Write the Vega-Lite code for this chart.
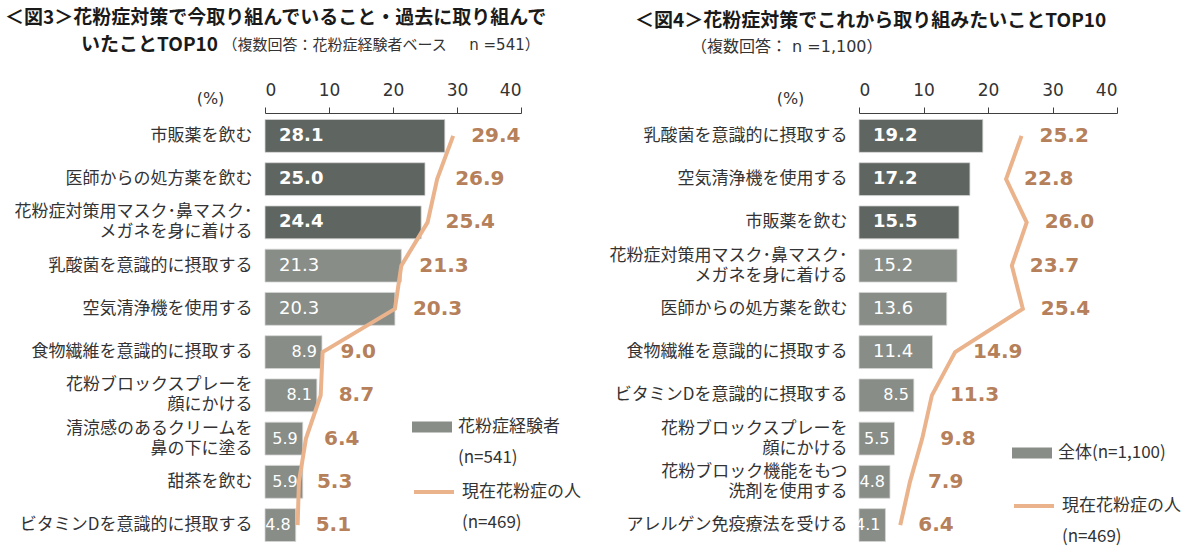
{
  "$schema": "https://vega.github.io/schema/vega-lite/v6.json",
  "background": "white",
  "padding": {"left": 5, "top": 9, "right": 5, "bottom": 5},
  "spacing": 28,
  "resolve": {"scale": {"fill": "independent", "stroke": "independent"}, "legend": {"fill": "independent", "stroke": "independent"}},
  "config": {
    "font": "Noto Sans CJK JP",
    "view": {"stroke": null},
    "style": {"guide-label": {"lineHeight": 31}},
    "title": {"anchor": "start", "frame": "group", "fontSize": 19, "fontWeight": "bold", "color": "#1a1a1a", "lineHeight": 27, "subtitleFontSize": 15, "subtitleColor": "#333333", "subtitleFont": "DejaVu Sans, Noto Sans CJK JP", "offset": 26},
    "legend": {"orient": "none", "title": null, "labelFont": "Noto Sans CJK JP", "labelFontSize": 17, "labelColor": "#333333", "labelOffset": 6, "labelLimit": 300, "symbolSize": 1600, "padding": 0}
  },
  "hconcat": [
    {
      "width": 256,
      "height": 435,
      "title": {
        "text": ["＜図3＞花粉症対策で今取り組んでいること・過去に取り組んで", "\u200b　　　　いたことTOP10"],
        "subtitle": "\u200b　　　　　　　　　　　　　　\u2002（複数回答：花粉症経験者ベース　\u2002n =541）",
        "dx": -260,
        "subtitlePadding": -17
      },
      "data": {"values": [
        {"item": "市販薬を飲む", "a": 28.1, "b": 29.4},
        {"item": "医師からの処方薬を飲む", "a": 25.0, "b": 26.9},
        {"item": "花粉症対策用マスク･鼻マスク･\nメガネを身に着ける", "a": 24.4, "b": 25.4},
        {"item": "乳酸菌を意識的に摂取する", "a": 21.3, "b": 21.3},
        {"item": "空気清浄機を使用する", "a": 20.3, "b": 20.3},
        {"item": "食物繊維を意識的に摂取する", "a": 8.9, "b": 9.0},
        {"item": "花粉ブロックスプレーを\n顔にかける", "a": 8.1, "b": 8.7},
        {"item": "清涼感のあるクリームを\n鼻の下に塗る", "a": 5.9, "b": 6.4},
        {"item": "甜茶を飲む", "a": 5.9, "b": 5.3},
        {"item": "ビタミンDを意識的に摂取する", "a": 4.8, "b": 5.1}
      ]},
      "transform": [{"window": [{"op": "row_number", "as": "rn"}]}],
      "encoding": {
        "y": {"field": "item", "type": "nominal", "sort": null,
          "scale": {"paddingInner": 0.24, "paddingOuter": 0.15},
          "axis": {"title": null, "domain": false, "ticks": false, "labelFont": "Noto Sans CJK JP", "labelFontSize": 17, "labelColor": "#333333", "labelPadding": 13, "labelLimit": 400, "labelLineHeight": 20, "labelExpr": "split(datum.label, '\\n')",
            "labelOffset": {"condition": {"test": "indexof(datum.label, '\\n') >= 0", "value": -10}, "value": 0},
            "minExtent": 243, "maxExtent": 243}}
      },
      "layer": [
        {
          "mark": {"type": "bar", "stroke": "#d4d6d4", "strokeWidth": 0.8},
          "encoding": {
            "x": {"field": "a", "type": "quantitative", "title": "(%)", "scale": {"domain": [0, 40], "nice": false},
              "axis": {"orient": "top", "values": [0, 10, 20, 30, 40], "grid": false, "domainColor": "#404040", "tickColor": "#404040", "tickSize": 6, "labelFont": "DejaVu Sans", "labelFontSize": 17, "labelColor": "#333333", "labelPadding": 8, "titleFont": "DejaVu Sans", "titleFontSize": 16, "titleFontWeight": "normal", "titleColor": "#333333", "titleX": -55, "titleY": -15, "titleAlign": "center", "titleBaseline": "middle", "titleAngle": 0}},
            "fill": {"condition": {"test": "datum.rn <= 3", "value": "#5f6560"}, "datum": "花粉症経験者\n(n=541)", "scale": {"range": ["#888d88"]},
              "legend": {"legendX": 147, "legendY": 294, "symbolType": "M-1,-0.275H1V0.275H-1Z", "symbolStrokeWidth": 0, "labelExpr": "split(datum.label, '\\n')",
                "encode": {"labels": {"update": {"lineHeight": {"value": 32}}}}}}
          }
        },
        {
          "transform": [{"filter": "datum.rn <= 3"}],
          "mark": {"type": "text", "align": "left", "baseline": "middle", "dx": 14, "color": "white", "fontWeight": "bold", "fontSize": 18, "font": "DejaVu Sans"},
          "encoding": {"x": {"datum": 0, "type": "quantitative", "title": "(%)"}, "text": {"field": "a", "type": "quantitative", "format": ".1f"}}
        },
        {
          "transform": [{"filter": "datum.rn > 3 && datum.a >= 10"}],
          "mark": {"type": "text", "align": "left", "baseline": "middle", "dx": 14, "color": "white", "fontSize": 18, "font": "DejaVu Sans"},
          "encoding": {"x": {"datum": 0, "type": "quantitative", "title": "(%)"}, "text": {"field": "a", "type": "quantitative", "format": ".1f"}}
        },
        {
          "transform": [{"filter": "datum.a < 10"}],
          "mark": {"type": "text", "align": "right", "baseline": "middle", "dx": -5, "color": "white", "fontSize": 16, "font": "DejaVu Sans"},
          "encoding": {"x": {"field": "a", "type": "quantitative", "title": "(%)"}, "text": {"field": "a", "type": "quantitative", "format": ".1f"}}
        },
        {
          "mark": {"type": "line", "strokeWidth": 4},
          "encoding": {
            "x": {"field": "b", "type": "quantitative", "title": "(%)"},
            "order": {"field": "rn", "type": "quantitative"},
            "stroke": {"datum": "現在花粉症の人\n(n=469)", "scale": {"range": ["#eab38c"]},
              "legend": {"legendX": 147, "legendY": 357, "symbolType": "M-1,0H1", "symbolStrokeWidth": 4, "labelExpr": "split(datum.label, '\\n')",
                "encode": {"labels": {"update": {"lineHeight": {"value": 31}}}}}}
          }
        },
        {
          "mark": {"type": "text", "align": "left", "baseline": "middle", "dx": 18, "color": "#b5805a", "fontWeight": "bold", "fontSize": 20, "font": "DejaVu Sans"},
          "encoding": {"x": {"field": "b", "type": "quantitative", "title": "(%)"}, "text": {"field": "b", "type": "quantitative", "format": ".1f"}}
        }
      ]
    },
    {
      "width": 258,
      "height": 435,
      "title": {
        "text": "＜図4＞花粉症対策でこれから取り組みたいことTOP10",
        "subtitle": "\u200b　　　　（複数回答： n =1,100）",
        "subtitleFontSize": 16,
        "dx": -224,
        "subtitlePadding": 8
      },
      "data": {"values": [
        {"item": "乳酸菌を意識的に摂取する", "a": 19.2, "b": 25.2},
        {"item": "空気清浄機を使用する", "a": 17.2, "b": 22.8},
        {"item": "市販薬を飲む", "a": 15.5, "b": 26.0},
        {"item": "花粉症対策用マスク･鼻マスク･\nメガネを身に着ける", "a": 15.2, "b": 23.7},
        {"item": "医師からの処方薬を飲む", "a": 13.6, "b": 25.4},
        {"item": "食物繊維を意識的に摂取する", "a": 11.4, "b": 14.9},
        {"item": "ビタミンDを意識的に摂取する", "a": 8.5, "b": 11.3},
        {"item": "花粉ブロックスプレーを\n顔にかける", "a": 5.5, "b": 9.8},
        {"item": "花粉ブロック機能をもつ\n洗剤を使用する", "a": 4.8, "b": 7.9},
        {"item": "アレルゲン免疫療法を受ける", "a": 4.1, "b": 6.4}
      ]},
      "transform": [{"window": [{"op": "row_number", "as": "rn"}]}],
      "encoding": {
        "y": {"field": "item", "type": "nominal", "sort": null,
          "scale": {"paddingInner": 0.24, "paddingOuter": 0.15},
          "axis": {"title": null, "domain": false, "ticks": false, "labelFont": "Noto Sans CJK JP", "labelFontSize": 17, "labelColor": "#333333", "labelPadding": 12, "labelLimit": 400, "labelLineHeight": 20, "labelExpr": "split(datum.label, '\\n')",
            "labelOffset": {"condition": {"test": "indexof(datum.label, '\\n') >= 0", "value": -10}, "value": 0},
            "minExtent": 247, "maxExtent": 247}}
      },
      "layer": [
        {
          "mark": {"type": "bar", "stroke": "#d4d6d4", "strokeWidth": 0.8},
          "encoding": {
            "x": {"field": "a", "type": "quantitative", "title": "(%)", "scale": {"domain": [0, 40], "nice": false},
              "axis": {"orient": "top", "values": [0, 10, 20, 30, 40], "grid": false, "domainColor": "#404040", "tickColor": "#404040", "tickSize": 6, "labelFont": "DejaVu Sans", "labelFontSize": 17, "labelColor": "#333333", "labelPadding": 8, "titleFont": "DejaVu Sans", "titleFontSize": 16, "titleFontWeight": "normal", "titleColor": "#333333", "titleX": -69, "titleY": -15, "titleAlign": "center", "titleBaseline": "middle", "titleAngle": 0}},
            "fill": {"condition": {"test": "datum.rn <= 3", "value": "#5f6560"}, "datum": "全体(n=1,100)", "scale": {"range": ["#888d88"]},
              "legend": {"legendX": 153, "legendY": 320, "symbolType": "M-1,-0.275H1V0.275H-1Z", "symbolStrokeWidth": 0}}
          }
        },
        {
          "transform": [{"filter": "datum.rn <= 3"}],
          "mark": {"type": "text", "align": "left", "baseline": "middle", "dx": 14, "color": "white", "fontWeight": "bold", "fontSize": 18, "font": "DejaVu Sans"},
          "encoding": {"x": {"datum": 0, "type": "quantitative", "title": "(%)"}, "text": {"field": "a", "type": "quantitative", "format": ".1f"}}
        },
        {
          "transform": [{"filter": "datum.rn > 3 && datum.a >= 10"}],
          "mark": {"type": "text", "align": "left", "baseline": "middle", "dx": 14, "color": "white", "fontSize": 18, "font": "DejaVu Sans"},
          "encoding": {"x": {"datum": 0, "type": "quantitative", "title": "(%)"}, "text": {"field": "a", "type": "quantitative", "format": ".1f"}}
        },
        {
          "transform": [{"filter": "datum.a < 10"}],
          "mark": {"type": "text", "align": "right", "baseline": "middle", "dx": -5, "color": "white", "fontSize": 16, "font": "DejaVu Sans"},
          "encoding": {"x": {"field": "a", "type": "quantitative", "title": "(%)"}, "text": {"field": "a", "type": "quantitative", "format": ".1f"}}
        },
        {
          "mark": {"type": "line", "strokeWidth": 4},
          "encoding": {
            "x": {"field": "b", "type": "quantitative", "title": "(%)"},
            "order": {"field": "rn", "type": "quantitative"},
            "stroke": {"datum": "現在花粉症の人\n(n=469)", "scale": {"range": ["#eab38c"]},
              "legend": {"legendX": 153, "legendY": 371, "symbolType": "M-1,0H1", "symbolStrokeWidth": 4, "labelExpr": "split(datum.label, '\\n')",
                "encode": {"labels": {"update": {"lineHeight": {"value": 31}}}}}}
          }
        },
        {
          "mark": {"type": "text", "align": "left", "baseline": "middle", "dx": 18, "color": "#b5805a", "fontWeight": "bold", "fontSize": 20, "font": "DejaVu Sans"},
          "encoding": {"x": {"field": "b", "type": "quantitative", "title": "(%)"}, "text": {"field": "b", "type": "quantitative", "format": ".1f"}}
        }
      ]
    }
  ]
}
